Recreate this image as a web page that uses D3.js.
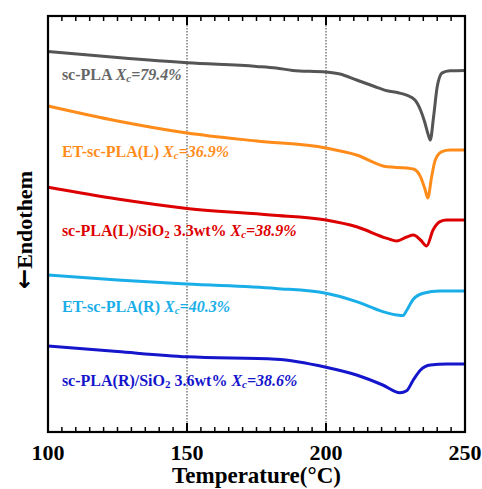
<!DOCTYPE html>
<html>
<head>
<meta charset="utf-8">
<script src="https://cdn.jsdelivr.net/npm/d3@7"></script>
<style>
  body { margin: 0; background: #fff; }
  text { font-family: "Liberation Serif", "Times New Roman", serif; font-weight: bold; }
</style>
</head>
<body>
<svg width="482" height="489"></svg>
<script>
// DSC curves, values (heat flow, arbitrary units)
var names = ["sc-PLA", "ET-sc-PLA(L)", "sc-PLA(L)/SiO2 3.3wt%", "ET-sc-PLA(R)", "sc-PLA(R)/SiO2 3.6wt%"];
var xcValues = ["79.4", "36.9", "38.9", "40.3", "38.6"];
var colors = ["#555555", "#ff8c1a", "#dd0000", "#1aaee8", "#1515cc"];
var xTicks = [100, 150, 200, 250];

var tempGray   = [100, 125, 150, 175, 182, 188, 200, 205, 211, 217, 222, 226, 229, 232, 234, 235.5, 236.7, 237.5, 238.7, 240, 241.8, 244.6, 250];
var heatGray   = [95.1, 93.6, 92.3, 91.4, 91.0, 90.4, 90.0, 89.5, 88.0, 86.5, 85.3, 84.8, 84.2, 83.0, 80.5, 77.5, 74.5, 73.0, 78.8, 86.3, 89.8, 90.3, 90.4];

var tempOrange = [100, 125, 150, 175, 200, 211, 222, 229, 231.4, 234, 235.7, 236.6, 238, 239.3, 241.7, 244.6, 250];
var heatOrange = [81.5, 77.75, 74.75, 72.75, 71.0, 69.25, 66.3, 66.0, 65.75, 63.8, 60.5, 58.5, 63.8, 68.0, 70.1, 70.5, 70.5];

var tempRed    = [100, 125, 150, 180, 200, 211, 222, 225.5, 229, 231.5, 234, 236.2, 238.5, 241, 243.4, 250];
var heatRed    = [61.2, 58.25, 55.9, 54.25, 53.0, 51.3, 48.4, 47.75, 48.75, 49.25, 48.0, 46.5, 50.5, 52.6, 53.0, 53.0];

var tempLight  = [100, 125, 150, 182, 200, 211, 220.4, 225.5, 227.7, 229.1, 231.4, 235, 241, 250];
var heatLight  = [39.25, 38.0, 37.0, 35.9, 34.7, 32.6, 30.1, 29.25, 29.1, 30.5, 33.2, 34.7, 35.25, 35.25];

var tempBlue   = [100, 125, 150, 182, 200, 211, 220.4, 226.6, 229, 231.4, 234, 237.5, 243.5, 250];
var heatBlue   = [21.5, 20.1, 18.8, 18.2, 16.2, 14.25, 11.75, 9.8, 10.3, 13.0, 15.5, 16.75, 17.0, 17.0];

var temps = [tempGray, tempOrange, tempRed, tempLight, tempBlue];
var heats = [heatGray, heatOrange, heatRed, heatLight, heatBlue];

var svg = d3.select("svg"),
    margin = {top: 16, right: 17, bottom: 57, left: 48},
    width = +svg.attr("width") - margin.left - margin.right,
    height = +svg.attr("height") - margin.top - margin.bottom;

var g = svg.append("g")
    .attr("transform", "translate(" + margin.left + "," + margin.top + ")");

var x = d3.scaleLinear().domain([100, 250]).range([0, width]);
var y = d3.scaleLinear().domain([0, 104]).range([height, 0]);

var line = d3.line()
    .x(function(d) { return x(d[0]); })
    .y(function(d) { return y(d[1]); })
    .curve(d3.curveMonotoneX);

// dotted grid at the inner major ticks
g.selectAll(".grid")
    .data([150, 200])
    .enter().append("line")
    .attr("x1", function(d) { return x(d); })
    .attr("x2", function(d) { return x(d); })
    .attr("y1", 0)
    .attr("y2", height)
    .attr("stroke", "#000")
    .attr("stroke-width", 0.8)
    .attr("stroke-dasharray", "1.5,1.5");

// curves
temps.forEach(function(t, i) {
    var pts = t.map(function(v, j) { return [v, heats[i][j]]; });
    g.append("path")
        .datum(pts)
        .attr("fill", "none")
        .attr("stroke", colors[i])
        .attr("stroke-width", 3)
        .attr("stroke-linejoin", "round")
        .attr("d", line);
});

// labels
var labelY = [88, 68.75, 49, 30, 11.5];
names.forEach(function(name, i) {
    var txt = g.append("text")
        .attr("x", x(105))
        .attr("y", y(labelY[i]))
        .attr("fill", i === 0 ? "#666" : colors[i])
        .attr("font-size", 16);
    var parts = name.split("SiO2");
    txt.append("tspan").text(parts[0]);
    if (parts.length > 1) {
        txt.append("tspan").text("SiO");
        txt.append("tspan").attr("font-size", 11).attr("dy", 2).text("2");
        txt.append("tspan").attr("dy", -2).text(parts[1]);
    }
    txt.append("tspan").text(" ");
    txt.append("tspan").attr("font-style", "italic").text("X");
    txt.append("tspan").attr("font-style", "italic").attr("font-size", 11).attr("dy", 2).text("c");
    txt.append("tspan").attr("font-style", "italic").attr("dy", -2).text("=" + xcValues[i] + "%");
});

// ticks, inward on top and bottom
var minor = d3.range(105, 250, 5);
function tickMarks(yPos, dir) {
    g.selectAll(null)
        .data(minor)
        .enter().append("line")
        .attr("x1", function(d) { return x(d); })
        .attr("x2", function(d) { return x(d); })
        .attr("y1", yPos)
        .attr("y2", function(d) { return yPos + dir * (d % 50 === 0 ? 9 : 5); })
        .attr("stroke", "#000")
        .attr("stroke-width", function(d) { return d % 50 === 0 ? 2 : 1.5; });
}
tickMarks(0, 1);
tickMarks(height, -1);

g.append("rect")
    .attr("width", width)
    .attr("height", height)
    .attr("fill", "none")
    .attr("stroke", "#000")
    .attr("stroke-width", 2.2);

g.selectAll(".xlab")
    .data(xTicks)
    .enter().append("text")
    .attr("x", function(d) { return x(d); })
    .attr("y", height + 28)
    .attr("text-anchor", "middle")
    .attr("font-size", 22)
    .text(function(d) { return d; });

svg.append("text")
    .attr("x", margin.left + width / 2)
    .attr("y", 483)
    .attr("text-anchor", "middle")
    .attr("font-size", 23)
    .text("Temperature(°C)");

var ylab = svg.append("text")
    .attr("transform", "translate(32,230) rotate(-90)")
    .attr("text-anchor", "middle")
    .attr("font-size", 22);
ylab.append("tspan")
    .attr("font-family", "DejaVu Sans")
    .attr("font-size", 24)
    .text("←");
ylab.append("tspan").text("Endothem");
</script>
</body>
</html>
